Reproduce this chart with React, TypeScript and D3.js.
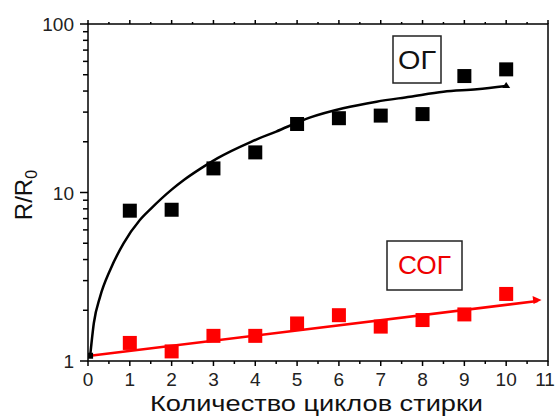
import React, { useEffect, useRef } from "react";
import * as d3 from "d3";

// scatter points
const cycles = [1, 2, 3, 4, 5, 6, 7, 8, 9, 10];
const ogValues = [7.8, 7.9, 13.9, 17.3, 25.5, 27.6, 28.6, 29.2, 49.1, 53.8];
const sogValues = [1.28, 1.14, 1.41, 1.41, 1.67, 1.87, 1.6, 1.75, 1.89, 2.5];

// fit curves
const ogFitX = [0.05, 0.14, 0.29, 0.53, 0.85, 1.24, 1.5, 2.0, 2.3, 2.7, 3.1, 3.9, 4.5, 5.3, 6.1, 6.9, 7.7, 8.5, 9.3, 10.0];
const ogFitY = [1.06, 1.68, 2.41, 3.47, 4.99, 6.87, 8.0, 10.4, 11.9, 13.9, 16.0, 20.0, 23.0, 27.8, 31.6, 34.6, 37.0, 39.6, 41.0, 42.9];
const sogFitX = [0.05, 10.75];
const sogFitY = [1.075, 2.27];

const xTicks = [0, 1, 2, 3, 4, 5, 6, 7, 8, 9, 10, 11];
const yTicks = [1, 10, 100];

const FONT = "'Liberation Sans', Arial, sans-serif";

const App = () => {
    const ref = useRef<SVGSVGElement>(null);

    useEffect(() => {
        const svg = d3.select(ref.current);
        svg.selectAll("*").remove();

        const left = 88, right = 548, top = 24, bottom = 361;

        const x = d3.scaleLinear().domain([0, 11]).range([left, right]);
        const y = d3.scaleLog().domain([1, 100]).range([bottom, top]);

        svg.append("rect").attr("width", 556).attr("height", 416).attr("fill", "#fff");

        // minor ticks
        const xMinor = d3.range(0.5, 11, 1);
        const yMinor: number[] = [];
        [1, 10].forEach(d => { for (let k = 2; k <= 9; k++) yMinor.push(d * k); });

        const g = svg.append("g").attr("stroke", "#000").attr("stroke-width", 1.5);

        // bottom ticks
        xTicks.forEach(t => g.append("line").attr("x1", x(t)).attr("x2", x(t)).attr("y1", bottom).attr("y2", bottom + 5));
        xMinor.forEach(t => g.append("line").attr("x1", x(t)).attr("x2", x(t)).attr("y1", bottom).attr("y2", bottom + 3));
        // top ticks
        xTicks.forEach(t => g.append("line").attr("x1", x(t)).attr("x2", x(t)).attr("y1", top).attr("y2", top - 4));
        xMinor.forEach(t => g.append("line").attr("x1", x(t)).attr("x2", x(t)).attr("y1", top).attr("y2", top - 2));
        // left ticks
        yTicks.forEach(t => g.append("line").attr("x1", left).attr("x2", left - 8).attr("y1", y(t)).attr("y2", y(t)));
        yMinor.forEach(t => g.append("line").attr("x1", left).attr("x2", left - 5).attr("y1", y(t)).attr("y2", y(t)));

        // frame
        svg.append("rect")
            .attr("x", left).attr("y", top)
            .attr("width", right - left).attr("height", bottom - top)
            .attr("fill", "none").attr("stroke", "#000").attr("stroke-width", 1.5);

        // tick labels
        svg.append("g").selectAll("text").data(xTicks).enter().append("text")
            .attr("x", d => d === 11 ? x(d) - 3 : x(d)).attr("y", 386)
            .attr("text-anchor", "middle")
            .attr("font-family", FONT).attr("font-size", 19).attr("fill", "#222")
            .text(d => d);

        svg.append("g").selectAll("text").data(yTicks).enter().append("text")
            .attr("x", 74).attr("y", d => y(d) + 7)
            .attr("text-anchor", "end")
            .attr("font-family", FONT).attr("font-size", 19).attr("fill", "#222")
            .text(d => d);

        // axis titles
        svg.append("text")
            .attr("x", 150).attr("y", 411)
            .attr("textLength", 333).attr("lengthAdjust", "spacingAndGlyphs")
            .attr("font-family", FONT).attr("font-size", 22).attr("fill", "#111")
            .text("Количество циклов стирки");

        const yt = svg.append("text")
            .attr("transform", "translate(32, 195) rotate(-90)")
            .attr("text-anchor", "middle")
            .attr("font-family", FONT).attr("font-size", 24).attr("fill", "#111");
        yt.append("tspan").text("R/R");
        yt.append("tspan").attr("font-size", 16).attr("dy", 5).text("0");

        const line = d3.line<[number, number]>()
            .x(d => x(d[0]))
            .y(d => y(d[1]))
            .curve(d3.curveMonotoneX);

        // red fit line
        const sogFit = sogFitX.map((v, i) => [v, sogFitY[i]] as [number, number]);
        svg.append("path").attr("d", line(sogFit))
            .attr("fill", "none").attr("stroke", "#f00").attr("stroke-width", 2.5);
        const a = sogFit[1];
        svg.append("path")
            .attr("d", `M${x(a[0]) + 4},${y(a[1]) - 1} l-9,-4 l1,8 z`)
            .attr("fill", "#f00");

        // black fit curve
        const ogFit = ogFitX.map((v, i) => [v, ogFitY[i]] as [number, number]);
        svg.append("path").attr("d", line(ogFit))
            .attr("fill", "none").attr("stroke", "#000").attr("stroke-width", 2.5);
        const e = ogFit[ogFit.length - 1];
        svg.append("path")
            .attr("d", `M${x(e[0])},${y(e[1]) - 4} l4,6 l-8,0 z`)
            .attr("fill", "#000");
        svg.append("rect")
            .attr("x", x(ogFit[0][0]) - 2).attr("y", y(ogFit[0][1]) - 4)
            .attr("width", 5).attr("height", 6).attr("fill", "#000");

        // squares
        const size = 14;
        svg.append("g").selectAll("rect").data(cycles).enter().append("rect")
            .attr("x", d => x(d) - size / 2)
            .attr("y", (d, i) => y(ogValues[i]) - size / 2)
            .attr("width", size).attr("height", size)
            .attr("fill", "#000");

        svg.append("g").selectAll("rect").data(cycles).enter().append("rect")
            .attr("x", d => x(d) - size / 2)
            .attr("y", (d, i) => y(sogValues[i]) - size / 2)
            .attr("width", size).attr("height", size)
            .attr("fill", "#f00");

        // labels in boxes
        svg.append("rect")
            .attr("x", 393).attr("y", 36).attr("width", 48).attr("height", 47)
            .attr("fill", "#fff").attr("stroke", "#222").attr("stroke-width", 1.5);
        svg.append("text")
            .attr("x", 398).attr("y", 68.5)
            .attr("textLength", 38).attr("lengthAdjust", "spacingAndGlyphs")
            .attr("font-family", FONT).attr("font-size", 25).attr("fill", "#111")
            .text("ОГ");

        svg.append("rect")
            .attr("x", 387).attr("y", 241).attr("width", 75).attr("height", 49)
            .attr("fill", "#fff").attr("stroke", "#222").attr("stroke-width", 1.5);
        svg.append("text")
            .attr("x", 398).attr("y", 273.5)
            .attr("textLength", 53).attr("lengthAdjust", "spacingAndGlyphs")
            .attr("font-family", FONT).attr("font-size", 25).attr("fill", "#e00")
            .text("СОГ");
    }, []);

    return (
        <svg ref={ref} width={556} height={416}
            style={{ position: "absolute", left: 0, top: 0, display: "block" }}></svg>
    );
};

export default App;
